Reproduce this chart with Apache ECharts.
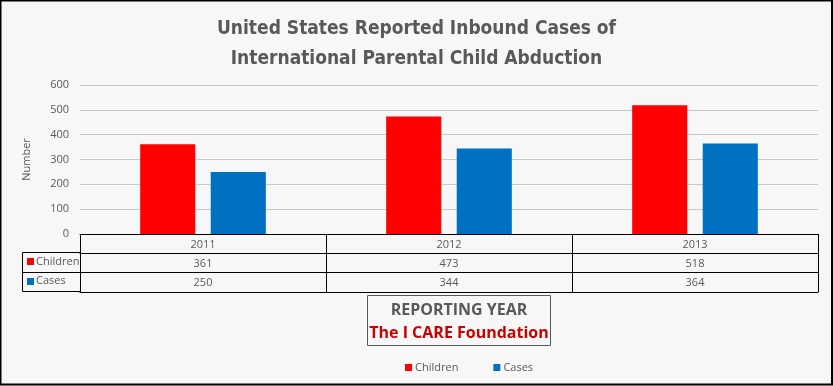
<!DOCTYPE html>
<html><head><meta charset="utf-8">
<script src="https://cdn.jsdelivr.net/npm/echarts@6/dist/echarts.min.js"></script>
<style>html,body{margin:0;padding:0;background:#f7f7f7}#c{width:833px;height:386px}</style>
</head><body><div id="c"></div>
<script>
const titleLines = ['United States Reported Inbound Cases of', 'International Parental Child Abduction'];
const years = ['2011', '2012', '2013'];
const seriesNames = ['Children', 'Cases'];
const children = [361, 473, 518];
const cases = [250, 344, 364];
const yTicks = [0, 100, 200, 300, 400, 500, 600];
const boxLines = ['REPORTING YEAR', 'The I CARE Foundation'];
const colors = ['#ff0000', '#0070c0'];

const txt = '#595959';
const font = "'Open Sans', 'DejaVu Sans', sans-serif";
const chart = echarts.init(document.getElementById('c'));

function tableAxis(data, offset, tickLen, showLine) {
  return {
    type: 'category', data: data, position: 'bottom', gridIndex: 0, offset: offset,
    axisLine: { show: showLine, lineStyle: { color: '#000', width: 1 } },
    axisTick: { show: tickLen > 0, length: tickLen, lineStyle: { color: '#000', width: 1 } },
    axisLabel: { show: data.length > 0 && data[0] !== '', color: txt, fontSize: 11, fontFamily: font, margin: 5 },
    splitLine: { show: false }
  };
}

chart.setOption({
  backgroundColor: '#f7f7f7',
  animation: false,
  title: {
    text: titleLines.join('\n'), left: 'center', top: 9,
    textStyle: { fontFamily: "'DejaVu Sans Condensed', 'DejaVu Sans', sans-serif", fontWeight: 'bold', fontSize: 19, color: txt, lineHeight: 30 }
  },
  legend: {
    data: seriesNames, left: 400, top: 357, icon: 'rect', itemWidth: 7, itemHeight: 7, itemGap: 35,
    textStyle: { color: txt, fontSize: 11, fontFamily: font, padding: [0, 0, 0, -2] }
  },
  grid: { left: 80, right: 15, top: 85, bottom: 152, containLabel: false },
  xAxis: [
    tableAxis(years, 0, 19, true),
    tableAxis(children.map(String), 19, 19, true),
    tableAxis(cases.map(String), 38, 20, true),
    tableAxis(['', '', ''], 58, 0, true)
  ],
  yAxis: {
    type: 'value', min: yTicks[0], max: yTicks[yTicks.length - 1], interval: 100,
    name: 'Number', nameLocation: 'middle', nameGap: 48, nameRotate: 90,
    nameTextStyle: { color: txt, fontSize: 11, fontFamily: font },
    axisLine: { show: false }, axisTick: { show: false },
    axisLabel: { color: txt, fontSize: 11, fontFamily: font, margin: 11 },
    splitLine: { lineStyle: { color: '#c8c8c8', width: 1 } }
  },
  series: [
    { name: seriesNames[0], type: 'bar', data: children, barWidth: '22.4%', barGap: '28%', itemStyle: { color: colors[0] } },
    { name: seriesNames[1], type: 'bar', data: cases, barWidth: '22.4%', barGap: '28%', itemStyle: { color: colors[1] } }
  ],
  graphic: [
    { type: 'rect', shape: { x: 0.5, y: 0.5, width: 831.5, height: 384 }, style: { fill: 'none', stroke: '#000', lineWidth: 2 }, silent: true },
    // left legend column of the data table
    { type: 'polyline', shape: { points: [[80, 252.5], [22.5, 252.5], [22.5, 291.5], [80, 291.5]] }, style: { fill: 'none', stroke: '#000', lineWidth: 1 } },
    { type: 'line', shape: { x1: 22.5, y1: 272.5, x2: 80, y2: 272.5 }, style: { stroke: '#000', lineWidth: 1 } },
    { type: 'rect', shape: { x: 27, y: 258, width: 7, height: 7 }, style: { fill: colors[0] } },
    { type: 'text', x: 36, y: 262, style: { text: seriesNames[0], fill: txt, font: "11px " + font, verticalAlign: 'middle' } },
    { type: 'rect', shape: { x: 27, y: 278, width: 7, height: 7 }, style: { fill: colors[1] } },
    { type: 'text', x: 36, y: 281, style: { text: seriesNames[1], fill: txt, font: "11px " + font, verticalAlign: 'middle' } },
    // axis title box
    { type: 'rect', shape: { x: 367.5, y: 295.5, width: 183, height: 50 }, style: { fill: 'none', stroke: txt, lineWidth: 1 } },
    { type: 'text', x: 459, y: 310, style: { text: boxLines[0], fill: txt, font: "bold 16px 'Open Sans', sans-serif", align: 'center', verticalAlign: 'middle' } },
    { type: 'text', x: 459, y: 333, style: { text: boxLines[1], fill: '#cc0000', font: "bold 16px 'Open Sans', sans-serif", align: 'center', verticalAlign: 'middle' } }
  ]
});
</script></body></html>
